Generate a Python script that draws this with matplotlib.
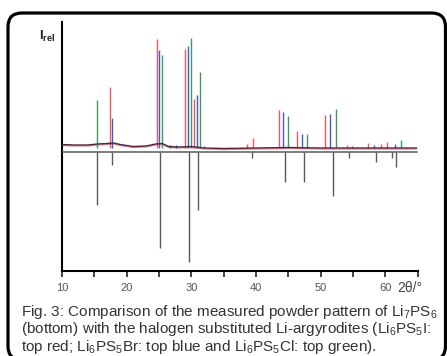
import numpy as np
import matplotlib
matplotlib.use("Agg")
import matplotlib.pyplot as plt
from matplotlib.patches import FancyBboxPatch

plt.rcParams['font.family'] = ['Liberation Sans', 'DejaVu Sans']
plt.rcParams['mathtext.fontset'] = 'custom'
plt.rcParams['mathtext.rm'] = 'Liberation Sans'

# peak positions (2theta, deg) and heights
red_pos = [17.4, 24.75, 29.07, 30.4, 38.6, 39.6, 43.5, 46.3, 50.7, 54.1, 57.3, 59.3, 60.3]
red_h = [60.8, 108.5, 98.5, 48.5, 4, 10, 37.5, 17, 33, 3, 5, 3.5, 6]

blue_pos = [17.7, 25.05, 26.7, 27.7, 29.5, 30.9, 31.9, 44.2, 47.1, 51.5, 54.9, 58.3, 61.4]
blue_h = [30, 97.5, 2.5, 2.5, 102, 52.5, 2, 36, 14, 33.5, 1.5, 3, 4]

green_pos = [15.46, 25.4, 29.9, 31.3, 45.0, 47.8, 52.4, 62.4]
green_h = [47.5, 93, 110, 76, 31.5, 13.5, 39, 7.5]

# Li7PS6 (bottom, pointing down)
li7_pos = [15.38, 17.7, 25.16, 29.7, 30.99, 39.4, 44.5, 47.4, 51.9, 54.4, 58.5, 61.0, 61.6]
li7_h = [53, 13, 95.7, 109.7, 58, 6, 30, 29.7, 44, 6, 10, 6, 14.7]

# background of the top patterns
bg_x = [10, 12, 14, 15.5, 17, 18, 19, 21, 23, 24.5, 25.5, 26.5, 28, 30, 32, 35, 40, 45, 50, 55, 60, 64.8]
bg_y = [3.0, 2.5, 2.5, 3.5, 4.0, 4.5, 3.0, 1.0, 1.5, 3.5, 4.0, 1.0, 0.5, 1.0, -0.5, -1.0, -0.5, 0, -0.5, -0.5, -0.5, -0.5]

bottom_base = -4.5

fig = plt.figure(figsize=(4.47, 3.56), dpi=100)
ax = fig.add_axes([61.9 / 447, 1 - 270.7 / 356, (417.8 - 61.9) / 447, (270.7 - 22) / 356])

ax.plot(bg_x, np.array(bg_y) - 1.0, color='#f08090', lw=1.0, zorder=2)
ax.plot(bg_x, bg_y, color='#3a3040', lw=1.0, zorder=4)

ax.vlines(red_pos, 0, red_h, color='#f0566a', lw=1.0, zorder=3)
ax.vlines(blue_pos, 0, blue_h, color='#3f5fbf', lw=1.0, zorder=3)
ax.vlines(green_pos, 0, green_h, color='#3f9a5c', lw=1.0, zorder=3)

ax.plot([10, 64.8], [bottom_base, bottom_base], color='#5a5a5a', lw=1.1, zorder=3)
ax.vlines(li7_pos, bottom_base, bottom_base - np.array(li7_h), color='#5a5a5a', lw=1.0, zorder=3)

ax.set_xlim(10, 65)
ax.set_ylim(-123.2, 125.5)
ax.set_xticks(np.arange(10, 66, 5))
ax.set_xticklabels(['10', '', '20', '', '30', '', '40', '', '50', '', '60', ''])
ax.set_yticks([])
ax.tick_params(axis='x', length=4, width=1.2, colors='#222', labelsize=8,
               labelcolor='#555', pad=5)
for s in ['top', 'right']:
    ax.spines[s].set_visible(False)
ax.spines['left'].set_linewidth(1.5)
ax.spines['bottom'].set_linewidth(1.5)

fig.text(397 / 447, 1 - 288 / 356, '2θ/°', fontsize=10, color='#444', va='center', ha='left')
fig.text(39 / 447, 1 - 36 / 356, r'I$\mathregular{_{rel}}$', fontsize=9.5, fontweight='bold',
         color='#222', va='center', ha='left')

caption = [
    r'Fig. 3: Comparison of the measured powder pattern of Li$\mathregular{_7}$PS$\mathregular{_6}$',
    r'(bottom) with the halogen substituted Li-argyrodites (Li$\mathregular{_6}$PS$\mathregular{_5}$I:',
    r'top red; Li$\mathregular{_6}$PS$\mathregular{_5}$Br: top blue and Li$\mathregular{_6}$PS$\mathregular{_5}$Cl: top green).',
]
for i, line in enumerate(caption):
    fig.text(21 / 447, 1 - (312 + 17.5 * i) / 356, line, fontsize=11.0, color='#333',
             va='center', ha='left')

frame = FancyBboxPatch((8, -4), 437.5, 347, boxstyle='round,pad=0,rounding_size=14',
                       fill=False, ec='black', lw=2.3, transform=None, clip_on=False)
fig.add_artist(frame)

fig.savefig('out.png', dpi=100)
